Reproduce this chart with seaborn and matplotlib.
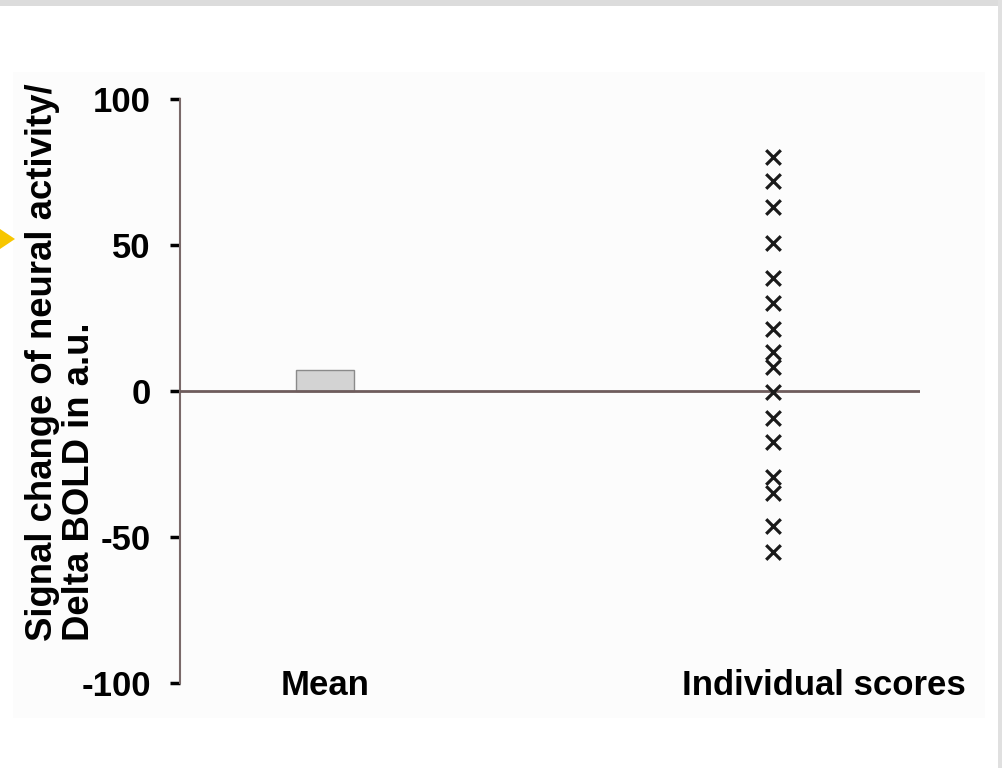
import matplotlib
matplotlib.use("Agg")
import matplotlib.pyplot as plt
import seaborn as sns
import numpy as np
from matplotlib.patches import Rectangle, Polygon

# data
categories = ["Mean", "Individual scores"]
mean_value = [7.2]
individual_scores = [80.1, 71.8, 63.0, 50.7, 38.8, 30.2, 21.4, 13.3, 8.3, -0.5,
                     -9.1, -17.4, -29.6, -34.8, -46.2, -55.2]
y_ticks = [100, 50, 0, -50, -100]
y_label = "Signal change of neural activity/\nDelta BOLD in a.u."

sns.set_style("white")
plt.rcParams['font.family'] = ['Liberation Sans', 'DejaVu Sans']
plt.rcParams['font.weight'] = 'bold'
plt.rcParams['text.color'] = 'black'
plt.rcParams['ytick.color'] = 'black'

fig = plt.figure(figsize=(10.03, 7.68), dpi=100)
fig.patch.set_facecolor("white")

# page decorations: panel, grey borders, yellow arrow
fig.patches.append(Rectangle((13/1003, 50/768), 972/1003, 646/768, transform=fig.transFigure,
                             facecolor="#fcfcfc", edgecolor="none", zorder=-2))
fig.patches.append(Rectangle((0, 762/768), 1, 6/768, transform=fig.transFigure,
                             facecolor="#dcdcdc", edgecolor="none", zorder=-2))
fig.patches.append(Rectangle((998/1003, 0), 5/1003, 1, transform=fig.transFigure,
                             facecolor="#e0e0e0", edgecolor="none", zorder=-2))
fig.patches.append(Polygon([[0, 1-229/768], [15/1003, 1-239/768], [0, 1-249/768]], closed=True,
                           transform=fig.transFigure, facecolor="#f7c600", edgecolor="none", zorder=-1))

ax = fig.add_axes([180/1003, 85/768, 740/1003, 584/768])
ax.set_zorder(2)
ax.set_facecolor("none")

sns.barplot(x=[categories[0]], y=mean_value, order=categories, ax=ax, width=0.13,
            color="#d3d3d3", saturation=1, edgecolor="#8a8a8a", linewidth=1, zorder=2)
sns.stripplot(x=[categories[1]]*len(individual_scores), y=individual_scores, order=categories,
              ax=ax, jitter=False, marker="x", s=10.5, linewidth=2.3, color="#1a1a1a", zorder=4)

ax.axhline(0, color="#6e5c5c", lw=2, zorder=3)
ax.set_xlim(-0.324, 1.328)
ax.set_ylim(-100, 100)
ax.set_yticks(y_ticks)
ax.set_yticklabels([str(t) for t in y_ticks], fontsize=25, fontweight="bold")
ax.tick_params(axis="y", direction="out", length=7, width=2.5, color="black", pad=14, left=True)
ax.set_xticks([])
ax.set_xlabel("")
ax.set_ylabel("")
for s in ["top", "right", "bottom"]:
    ax.spines[s].set_visible(False)
ax.spines["left"].set_color("#7a6a6a")
ax.spines["left"].set_linewidth(1.5)

# category labels sit level with the -100 tick
label_x = [0, 1.114]
for lx, name in zip(label_x, categories):
    ax.text(lx, -101, name, ha="center", va="center", fontsize=25, fontweight="bold",
            transform=ax.transData, clip_on=False)

fig.text(61/1003, 1-641/768, y_label, rotation=90, ha="center", va="bottom",
         multialignment="left", fontsize=26.3, fontweight="bold", linespacing=1.05)

fig.savefig("out.png", dpi=100)
